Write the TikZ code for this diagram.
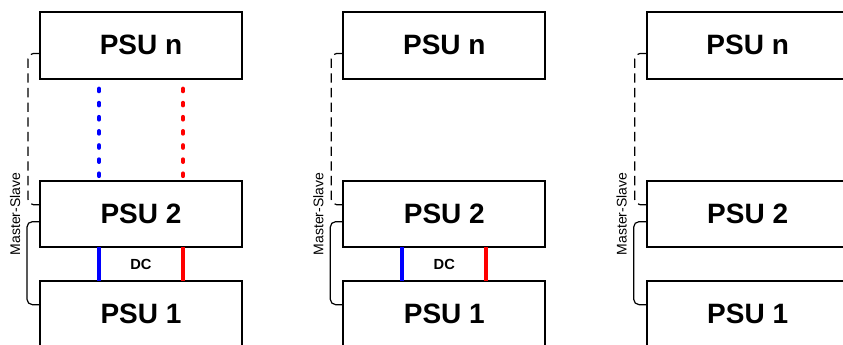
\documentclass[tikz,border=0pt]{standalone}
\usepackage{fontspec}
\setmainfont{Liberation Sans}
\usetikzlibrary{calc}
\tikzset{
  psubox/.style={draw=black, line width=1.5pt, minimum width=151.5pt, minimum height=50pt,
    inner sep=0pt, outer sep=0pt, font=\fontsize{21}{25}\selectfont\bfseries},
  dcblue/.style={draw={rgb,255:red,0;green,0;blue,255}, line width=3pt},
  dcred/.style={draw={rgb,255:red,255;green,0;blue,0}, line width=3pt},
  dotline/.style={line width=3pt, line cap=round, dash pattern=on 2pt off 8.6pt, dash phase=3.1pt},
  msdash/.style={draw=black, line width=0.9pt, dash pattern=on 7pt off 4pt, rounded corners=4pt},
  mssolid/.style={draw=black, line width=0.9pt, rounded corners=4pt},
  mslabel/.style={font=\fontsize{10.5}{12}\selectfont, rotate=90, inner sep=0pt},
  dclabel/.style={font=\fontsize{11}{13}\selectfont\bfseries, inner sep=0pt}
}
\begin{document}
\begin{tikzpicture}[x=0.75pt, y=-0.75pt]
\useasboundingbox (0,0) rectangle (843,345);
\clip (0,0) rectangle (843,345);
\fill[white] (0,0) rectangle (843,345);
\foreach \i/\dx in {1/0, 2/303.3, 3/606.7} {
  \node[psubox] (pn\i) at (141+\dx, 45.3) {PSU n};
  \node[psubox] (p2\i) at (141+\dx, 214) {PSU 2};
  \node[psubox] (p1\i) at (141+\dx, 314) {PSU 1};
  % master-slave brackets
  \coordinate (msa\i) at ($(pn\i.north west)+(0,41.5)$);
  \coordinate (msb\i) at ($(p2\i.north west)+(0,24)$);
  \coordinate (msc\i) at ($(p2\i.north west)+(0,41)$);
  \coordinate (msd\i) at ($(p1\i.north west)+(0,24)$);
  \draw[msdash] (msa\i) -- ++(-12,0) |- (msb\i);
  \draw[mssolid] (msc\i) -- ++(-13,0) |- (msd\i);
  \node[mslabel] (ms\i) at ($(p2\i.west)+(-25,0)$) {Master-Slave};
  \ifnum\i<3
    \coordinate (bb\i) at ($(p2\i.south west)+(59,0)$);
    \coordinate (rb\i) at ($(p2\i.south west)+(143,0)$);
    \draw[dcblue] (bb\i) -- (bb\i |- p1\i.north);
    \draw[dcred] (rb\i) -- (rb\i |- p1\i.north);
    \node[dclabel] (dc\i) at ($(p2\i.south)!0.5!(p1\i.north)$) {DC};
  \fi
  \ifnum\i=1
    \coordinate (bt\i) at ($(pn\i.south west)+(59,0)$);
    \coordinate (rt\i) at ($(pn\i.south west)+(143,0)$);
    \draw[dcblue, dotline] (bt\i) -- (bt\i |- p2\i.north);
    \draw[dcred, dotline] (rt\i) -- (rt\i |- p2\i.north);
  \fi
}
\end{tikzpicture}
\end{document}
